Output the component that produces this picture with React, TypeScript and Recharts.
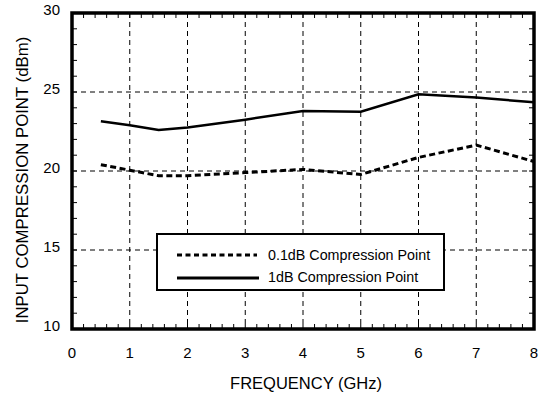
import { CartesianGrid, ComposedChart, Legend, Line, ReferenceArea, Scatter, XAxis, YAxis } from "recharts";

const FREQ = [0.5, 1, 1.5, 2, 3, 4, 5, 6, 7, 8];
const P1DB = [23.15, 22.9, 22.6, 22.75, 23.25, 23.8, 23.75, 24.85, 24.65, 24.35];
const P01DB = [20.4, 20.05, 19.7, 19.7, 19.9, 20.1, 19.78, 20.86, 21.64, 20.6];

const X_TICKS = [0, 1, 2, 3, 4, 5, 6, 7, 8];
const Y_TICKS = [10, 15, 20, 25, 30];
const X_MINOR = Array.from({ length: 39 }, (_, i) => +((i + 1) * 0.2).toFixed(1));
const Y_MINOR = Array.from({ length: 19 }, (_, i) => 11 + i);

const X_MIN = 0;
const X_MAX = 8;
const Y_MIN = 10;
const Y_MAX = 30;

const data = FREQ.map((f, i) => ({ f, p1: P1DB[i], p01: P01DB[i] }));

// minor tick anchor points on the frame edges
const bottomTicks = X_MINOR.map((f) => ({ f, v: Y_MIN }));
const topTicks = X_MINOR.map((f) => ({ f, v: Y_MAX }));
const leftTicks = Y_MINOR.map((v) => ({ f: X_MIN, v }));
const rightTicks = Y_MINOR.map((v) => ({ f: X_MAX, v }));

const FONT = "'Liberation Sans', Arial, Helvetica, sans-serif";
const tickStyle = { fill: "#000", fontSize: 15, fontFamily: FONT };
const TL = 5;

const tickShape = (dx: number, dy: number) => (p: any) => (
  <line x1={p.cx} y1={p.cy} x2={p.cx + dx * TL} y2={p.cy + dy * TL} stroke="#000" strokeWidth={1} />
);

function LegendBox() {
  return (
    <div style={{ width: 285, height: 54, border: "2px solid #000", background: "#fff" }}>
      <svg width={285} height={54} style={{ display: "block" }}>
        <line x1={19} x2={99} y1={20} y2={20} stroke="#000" strokeWidth={3} strokeDasharray="5 3.5" />
        <text x={110} y={25} fontFamily={FONT} fontSize={14.3} fill="#000">0.1dB Compression Point</text>
        <line x1={19} x2={101} y1={43} y2={43} stroke="#000" strokeWidth={2.8} />
        <text x={110} y={47} fontFamily={FONT} fontSize={14.3} fill="#000">1dB Compression Point</text>
      </svg>
    </div>
  );
}

export default function App() {
  return (
    <div style={{ position: "absolute", left: 0, top: 0, background: "#fff" }}>
      <ComposedChart width={541} height={395} data={data} margin={{ top: 13, right: 7, left: 10, bottom: 26 }}>
        <CartesianGrid stroke="#000" strokeWidth={1} strokeDasharray="5 4" fill="none" />
        <XAxis
          dataKey="f"
          type="number"
          domain={[X_MIN, X_MAX]}
          ticks={X_TICKS}
          interval={0}
          allowDataOverflow
          height={40}
          tickSize={0}
          tickMargin={18}
          tickLine={false}
          axisLine={false}
          tick={tickStyle}
          label={({ viewBox }: any) => (
            <text
              x={viewBox.x + viewBox.width / 2 + 3}
              y={viewBox.y + 60}
              textAnchor="middle"
              fontFamily={FONT}
              fontSize={16.5}
              fill="#000"
            >
              FREQUENCY (GHz)
            </text>
          )}
        />
        <YAxis
          type="number"
          domain={[Y_MIN, Y_MAX]}
          ticks={Y_TICKS}
          interval={0}
          allowDataOverflow
          width={62}
          tickSize={0}
          tickMargin={12}
          tickLine={false}
          axisLine={false}
          tick={{ ...tickStyle, dy: -3 }}
          label={({ viewBox }: any) => {
            const cx = viewBox.x + 12;
            const cy = 180;
            return (
              <text
                x={cx}
                y={cy}
                transform={`rotate(-90, ${cx}, ${cy})`}
                textAnchor="middle"
                dominantBaseline="central"
                fontFamily={FONT}
                fontSize={16.8}
                fill="#000"
              >
                INPUT COMPRESSION POINT (dBm)
              </text>
            );
          }}
        />
        <Legend
          layout="horizontal"
          verticalAlign="middle"
          align="center"
          wrapperStyle={{ position: "absolute", left: 156, top: 233, width: 289, height: 58 }}
          content={() => <LegendBox />}
        />
        <Line
          type="linear"
          dataKey="p01"
          name="0.1dB Compression Point"
          stroke="#000"
          strokeWidth={3}
          strokeDasharray="6 3.5"
          dot={false}
          isAnimationActive={false}
        />
        <Line
          type="linear"
          dataKey="p1"
          name="1dB Compression Point"
          stroke="#000"
          strokeWidth={2.5}
          dot={false}
          isAnimationActive={false}
        />
        <Scatter data={bottomTicks} dataKey="v" shape={tickShape(0, -1)} legendType="none" isAnimationActive={false} />
        <Scatter data={topTicks} dataKey="v" shape={tickShape(0, 1)} legendType="none" isAnimationActive={false} />
        <Scatter data={leftTicks} dataKey="v" shape={tickShape(1, 0)} legendType="none" isAnimationActive={false} />
        <Scatter data={rightTicks} dataKey="v" shape={tickShape(-1, 0)} legendType="none" isAnimationActive={false} />
        <ReferenceArea
          x1={X_MIN}
          x2={X_MAX}
          y1={Y_MIN}
          y2={Y_MAX}
          fill="none"
          fillOpacity={0}
          stroke="#000"
          strokeWidth={3.5}
        />
      </ComposedChart>
    </div>
  );
}
